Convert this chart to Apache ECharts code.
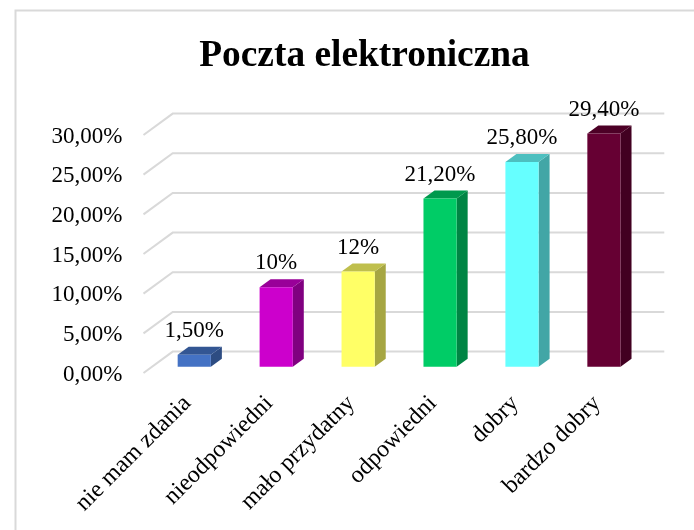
<!DOCTYPE html>
<html>
<head>
<meta charset="utf-8">
<style>
  html, body { margin: 0; background: #fff; overflow: hidden; }
  #chart { width: 694px; height: 530px; }
</style>
</head>
<body>
<div id="chart"></div>
<script src="https://cdn.jsdelivr.net/npm/echarts@6/dist/echarts.min.js"></script>
<script>
const categories = ["nie mam zdania", "nieodpowiedni", "mało przydatny", "odpowiedni", "dobry", "bardzo dobry"];
const values = [1.5, 10, 12, 21.2, 25.8, 29.4];
const valueLabels = ["1,50%", "10%", "12%", "21,20%", "25,80%", "29,40%"];
const yTicks = [0, 5, 10, 15, 20, 25, 30];
const yTickLabels = ["0,00%", "5,00%", "10,00%", "15,00%", "20,00%", "25,00%", "30,00%"];
// front, top, side
const frontColors = ["#4472C4", "#CC00CC", "#FFFF66", "#00CC66", "#66FFFF", "#660033"];
const topColors = ["#335693", "#990099", "#BFBF4D", "#00994D", "#4DBFBF", "#4D0026"];
const sideColors = ["#2D4C82", "#800080", "#A6A642", "#008544", "#42A6A6", "#420021"];

const font = '"Liberation Serif", serif';
const chart = echarts.init(document.getElementById("chart"), null, { renderer: "canvas" });

chart.setOption({
  animation: false,
  backgroundColor: "#fff",
  title: {
    text: "Poczta elektroniczna",
    left: 359.5,
    top: 33,
    textAlign: "center",
    textStyle: { fontFamily: font, fontSize: 37.4, fontWeight: "bold", color: "#000" }
  },
  graphic: [{
    // frame runs off the right and bottom of the picture
    type: "rect",
    shape: { x: 15.5, y: 10.5, width: 720, height: 560 },
    style: { fill: "none", stroke: "#D9D9D9", lineWidth: 2 },
    silent: true
  }],
  grid: { left: 143.5, top: 135, width: 491.6, height: 238 },
  xAxis: {
    type: "category",
    data: categories,
    axisLine: { show: false },
    axisTick: { show: false },
    axisLabel: {
      interval: 0,
      rotate: 45,
      margin: 24,
      color: "#000",
      // rich padding nudges the slanted text towards its place
      formatter: function (v) { return "{a|" + v + "}"; },
      rich: { a: { fontFamily: font, fontSize: 24, color: "#000", padding: [8, 0, 0, 0] } }
    }
  },
  yAxis: {
    type: "value",
    min: 0,
    max: 30,
    interval: 5,
    axisLine: { show: false },
    axisTick: { show: false },
    splitLine: { show: false },
    axisLabel: {
      margin: 21,
      color: "#000",
      formatter: function (v) { return "{a|" + yTickLabels[yTicks.indexOf(v)] + "}"; },
      rich: { a: { fontFamily: font, fontSize: 23, color: "#000", padding: [3, 0, 0, 0] } }
    }
  },
  series: [
    {
      // wall grid lines, front edge then back
      type: "custom",
      silent: true,
      clip: false,
      data: yTicks.map(function (t) { return [0, t]; }),
      renderItem: function (params, api) {
        const y = api.coord([0, api.value(1)])[1];
        const left = params.coordSys.x;
        const w = params.coordSys.width;
        return {
          type: "polyline",
          shape: { points: [[left, y], [left + 29.2, y - 21.4], [left + 29.2 + w, y - 21.4]] },
          style: { fill: "none", stroke: "#D9D9D9", lineWidth: 2 }
        };
      }
    },
    {
      type: "custom",
      silent: true,
      clip: false,
      data: values.map(function (v, i) { return [i, v]; }),
      renderItem: function (params, api) {
        const i = api.value(0);
        const top = api.coord([i, api.value(1)]);
        const base = api.coord([i, 0]);
        const bw = api.size([1, 0])[0] * 0.405;
        const x0 = top[0] + 9.8 - bw / 2;
        const x1 = x0 + bw;
        const y0 = top[1] - 6.3;
        const y1 = base[1] - 6.3;
        const dx = 11, dy = 8;
        return {
          type: "group",
          children: [
            { type: "polygon", shape: { points: [[x1, y0], [x1 + dx, y0 - dy], [x1 + dx, y1 - dy], [x1, y1]] }, style: { fill: sideColors[i] } },
            { type: "polygon", shape: { points: [[x0, y0], [x0 + dx, y0 - dy], [x1 + dx, y0 - dy], [x1, y0]] }, style: { fill: topColors[i] } },
            { type: "rect", shape: { x: x0, y: y0, width: bw, height: y1 - y0 }, style: { fill: frontColors[i] } },
            {
              type: "text",
              style: {
                x: (x0 + x1) / 2,
                y: y0 - 24,
                text: valueLabels[i],
                fontFamily: font,
                fontSize: 23,
                fill: "#000",
                align: "center",
                verticalAlign: "middle"
              }
            }
          ]
        };
      }
    }
  ]
});
</script>
</body>
</html>
